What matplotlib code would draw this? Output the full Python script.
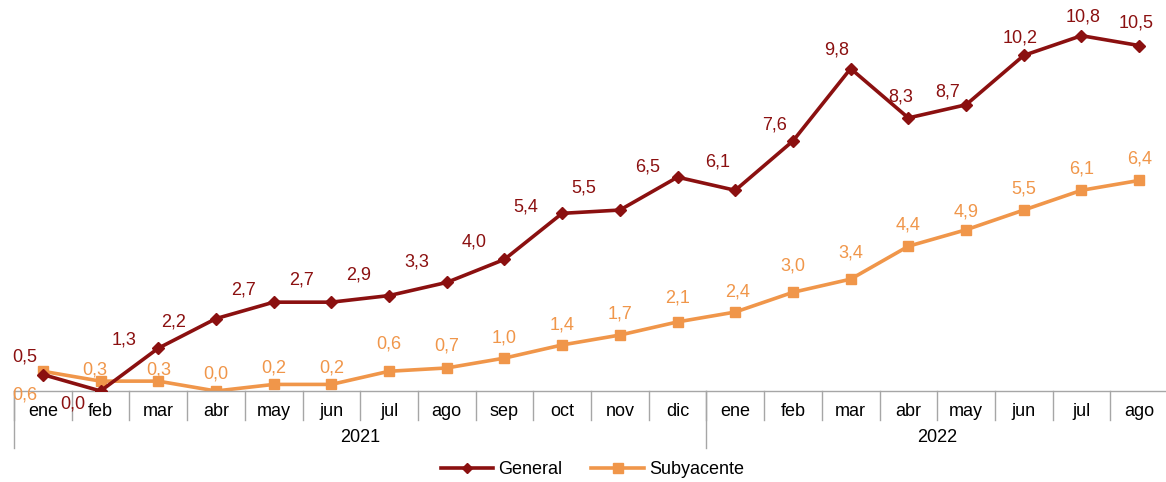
import matplotlib
matplotlib.use('Agg')
import matplotlib.pyplot as plt
from matplotlib.lines import Line2D

plt.rcParams['font.family'] = ['Liberation Sans', 'DejaVu Sans']

meses = ['ene', 'feb', 'mar', 'abr', 'may', 'jun', 'jul', 'ago', 'sep', 'oct', 'nov', 'dic',
         'ene', 'feb', 'mar', 'abr', 'may', 'jun', 'jul', 'ago']
anios = ['2021', '2022']
meses_por_anio = [12, 8]

general = [0.5, 0.0, 1.3, 2.2, 2.7, 2.7, 2.9, 3.3, 4.0, 5.4, 5.5, 6.5,
           6.1, 7.6, 9.8, 8.3, 8.7, 10.2, 10.8, 10.5]
subyacente = [0.6, 0.3, 0.3, 0.0, 0.2, 0.2, 0.6, 0.7, 1.0, 1.4, 1.7, 2.1,
              2.4, 3.0, 3.4, 4.4, 4.9, 5.5, 6.1, 6.4]

# desplazamiento de las etiquetas (pixeles)
off_gen = [(-18, 18), (-28, -13), (-34, 8), (-42, -3), (-30, 12), (-30, 22), (-30, 21),
           (-30, 20), (-30, 17), (-36, 6), (-36, 22), (-30, 10), (-18, 28), (-18, 16),
           (-14, 19), (-8, 21), (-18, 13), (-4, 17), (2, 19), (-3, 23)]
off_sub = [(-18, -24), (-6, 11), (0, 11), (0, 17), (0, 16), (0, 16), (0, 27), (0, 22),
           (0, 20), (0, 20), (0, 21), (0, 24), (2, 20), (0, 26), (0, 26), (0, 21),
           (0, 18), (0, 21), (0, 21), (0, 21)]

c_gen = '#8B1010'
c_sub = '#F0964A'
fs = 13

fig = plt.figure(figsize=(11.66, 4.82), dpi=100)
ax = fig.add_axes([14 / 1166, 1 - 391 / 482, 1154 / 1166, 391 / 482])

x = list(range(len(meses)))
ax.plot(x, general, color=c_gen, lw=2.6, marker='D', ms=6, zorder=3)
ax.plot(x, subyacente, color=c_sub, lw=2.6, marker='s', ms=7.5, zorder=2)

for i, v in enumerate(general):
    ax.annotate(f'{v:.1f}'.replace('.', ','), (i, v), xytext=off_gen[i],
                textcoords='offset pixels', ha='center', va='center',
                color=c_gen, fontsize=fs)
for i, v in enumerate(subyacente):
    ax.annotate(f'{v:.1f}'.replace('.', ','), (i, v), xytext=off_sub[i],
                textcoords='offset pixels', ha='center', va='center',
                color=c_sub, fontsize=fs)

ax.set_xlim(-0.5, len(meses) - 0.5)
ax.set_ylim(0, 391 / 32.9)
ax.set_yticks([])
ax.set_xticks([])
for s in ['top', 'right', 'left']:
    ax.spines[s].set_visible(False)
ax.spines['bottom'].set_color('#A6A6A6')
ax.spines['bottom'].set_linewidth(1)

h = 391.0
tr = ax.get_xaxis_transform()
gris = '#A6A6A6'
for i in range(len(meses) + 1):
    ax.add_line(Line2D([i - 0.5, i - 0.5], [0, -29 / h], transform=tr,
                       color=gris, lw=1, clip_on=False))
for i, m in enumerate(meses):
    ax.text(i, -21 / h, m, transform=tr, ha='center', va='center', fontsize=fs)

inicio = 0
for a, n in zip(anios, meses_por_anio):
    ax.add_line(Line2D([inicio - 0.5, inicio - 0.5], [0, -57 / h], transform=tr,
                       color=gris, lw=1, clip_on=False))
    ax.text(inicio + (n - 1) / 2, -46 / h, a, transform=tr, ha='center', va='center',
            fontsize=fs)
    inicio += n

handles = [Line2D([], [], color=c_gen, lw=2.6, marker='D', ms=5),
           Line2D([], [], color=c_sub, lw=2.6, marker='s', ms=7)]
fig.legend(handles, ['General', 'Subyacente'], loc='center', bbox_to_anchor=(0.508, 0.025),
           ncol=2, frameon=False, fontsize=fs, handlelength=2.9, columnspacing=1.6,
           handletextpad=0.3)

fig.savefig('out.png', dpi=100)
